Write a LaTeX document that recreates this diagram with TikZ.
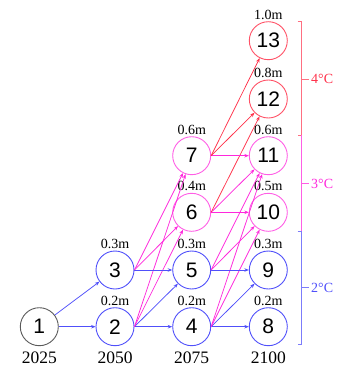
\documentclass[tikz,border=0pt]{standalone}
\usepackage{fontspec}
\setmainfont{Liberation Serif}
\newfontfamily\numfont{Liberation Sans}
\usepackage{tikz}
\usetikzlibrary{arrows.meta}
\definecolor{lowblue}{RGB}{80,80,250}
\definecolor{midpink}{RGB}{255,40,220}
\definecolor{highred}{RGB}{255,50,75}
\definecolor{greyline}{RGB}{90,90,90}

\begin{document}
\begin{tikzpicture}[x=1pt, y=-1pt, >={Stealth[length=4.5pt,width=3.5pt]},
    state/.style={circle, draw=#1, line width=0.9pt, minimum size=38pt, inner sep=0pt,
        font=\numfont\fontsize{21}{21}\selectfont},
    rise/.style={font=\fontsize{14}{14}\selectfont, inner sep=1.5pt},
    year/.style={font=\fontsize{17.5}{17.5}\selectfont, inner sep=0pt},
    link/.style={->, line width=0.75pt, draw=#1}]
    \useasboundingbox (0,0) rectangle (342,367);

    % nodes, one column per year
    \node[state=greyline] (n1) at (39.3,326.7) {1};
    \node[state=lowblue, label={[rise]above:0.2m}] (n2) at (115,326.7) {2};
    \node[state=lowblue, label={[rise]above:0.3m}] (n3) at (115,270) {3};
    \node[state=lowblue, label={[rise]above:0.2m}] (n4) at (191.7,326.7) {4};
    \node[state=lowblue, label={[rise]above:0.3m}] (n5) at (191.7,270) {5};
    \node[state=midpink!75, label={[rise]above:0.4m}] (n6) at (191.7,212.3) {6};
    \node[state=midpink!75, label={[rise]above:0.6m}] (n7) at (191.7,155.7) {7};
    \node[state=lowblue, label={[rise]above:0.2m}] (n8) at (268.3,326.7) {8};
    \node[state=lowblue, label={[rise]above:0.3m}] (n9) at (268.3,270) {9};
    \node[state=midpink!75, label={[rise]above:0.5m}] (n10) at (268.3,212.3) {10};
    \node[state=midpink!75, label={[rise]above:0.6m}] (n11) at (268.3,155.7) {11};
    \node[state=highred!85, label={[rise]above:0.8m}] (n12) at (268.3,99) {12};
    \node[state=highred!85, label={[rise]above:1.0m}] (n13) at (268.3,40.7) {13};

    \node[year] (y2025) at (39.3,357.5) {2025};
    \node[year] (y2050) at (115,357.5) {2050};
    \node[year] (y2075) at (191.7,357.5) {2075};
    \node[year] (y2100) at (268.3,357.5) {2100};

    % transitions
    \draw[link=lowblue] (n1) -- (n2);
    \draw[link=lowblue] (n1) -- (n3);
    \draw[link=lowblue] (n2.east) -- (n4);
    \draw[link=lowblue] (n2.east) -- (n5);
    \draw[link=midpink] (n2.east) -- (n6);
    \draw[link=midpink] (n2.east) -- (n7);
    \draw[link=lowblue] (n3.east) -- (n5);
    \draw[link=midpink] (n3.east) -- (n6);
    \draw[link=midpink] (n3.east) -- (n7);
    \draw[link=lowblue] (n4.east) -- (n8);
    \draw[link=lowblue] (n4.east) -- (n9);
    \draw[link=midpink] (n4.east) -- (n10);
    \draw[link=midpink] (n4.east) -- (n11);
    \draw[link=lowblue] (n5.east) -- (n9);
    \draw[link=midpink] (n5.east) -- (n10);
    \draw[link=midpink] (n5.east) -- (n11);
    \draw[link=midpink] (n6.east) -- (n10);
    \draw[link=midpink] (n6.east) -- (n11);
    \draw[link=highred] (n6.east) -- (n12);
    \draw[link=midpink] (n7.east) -- (n11);
    \draw[link=highred] (n7.east) -- (n12);
    \draw[link=highred] (n7.east) -- (n13);

    % scenario brackets
    \draw[highred!70, line width=0.7pt] (297.7,21.7) -- (301.7,21.7) -- (301.7,135) -- (297.7,135)
        (301.7,79) -- (309,79);
    \node[font=\fontsize{14}{14}\selectfont, text=highred, anchor=west, inner sep=0pt] (t4) at (311,79) {4°C};
    \draw[midpink!75, line width=0.7pt] (301.7,135) -- (301.7,231) (301.7,183.5) -- (309,183.5);
    \node[font=\fontsize{14}{14}\selectfont, text=midpink, anchor=west, inner sep=0pt] (t3) at (311,183.5) {3°C};
    \draw[lowblue!75, line width=0.7pt] (297.7,231) -- (301.7,231) -- (301.7,344) -- (297.7,344)
        (301.7,287.5) -- (309,287.5);
    \node[font=\fontsize{14}{14}\selectfont, text=lowblue, anchor=west, inner sep=0pt] (t2) at (311,287.5) {2°C};
\end{tikzpicture}
\end{document}
